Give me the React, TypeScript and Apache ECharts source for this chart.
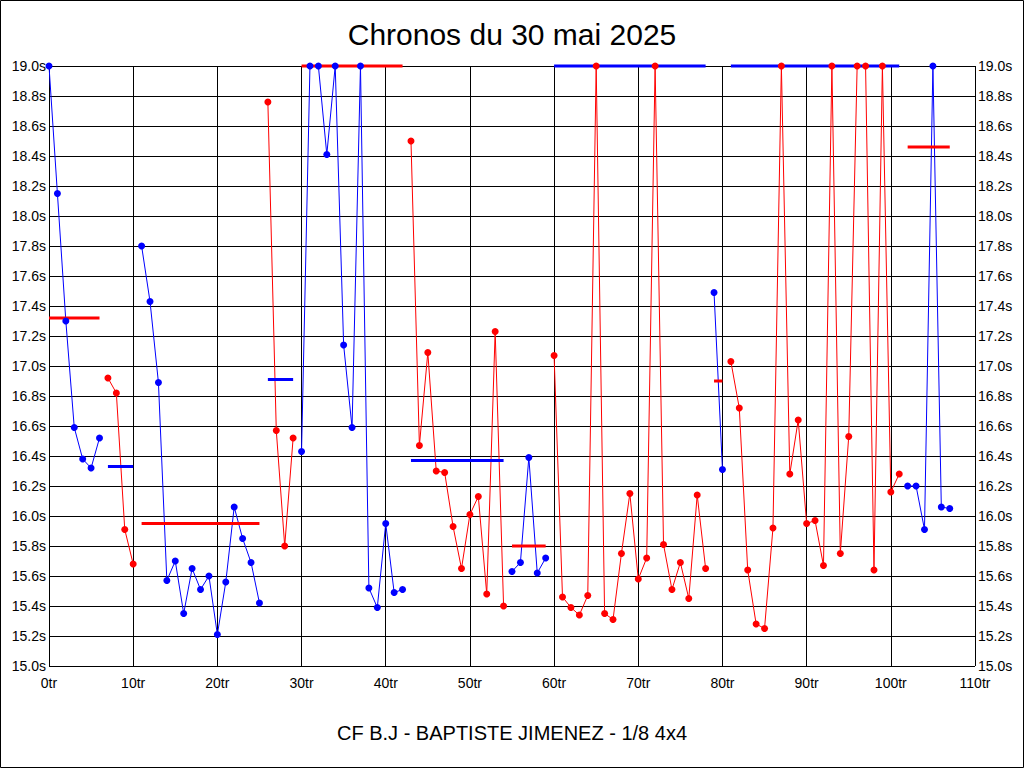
import React, { useEffect, useRef } from "react";
import * as echarts from "echarts";

// Lap times (s), index = lap number (tr). Values above 19.0 are shown clipped at 19.0.
const lapTimes: number[] = [
  19.0, 18.15, 17.3, 16.59, 16.38, 16.32, 16.52,
  16.92, 16.82, 15.91, 15.68,
  17.8, 17.43, 16.89, 15.57, 15.7, 15.35, 15.65, 15.51, 15.6, 15.21, 15.56, 16.06, 15.85, 15.69, 15.42,
  18.76, 16.57, 15.8, 16.52,
  16.43, 19.0, 19.0, 18.41, 19.0, 17.14, 16.59, 19.0, 15.52, 15.39, 15.95, 15.49, 15.51,
  18.5, 16.47, 17.09, 16.3, 16.29, 15.93, 15.65, 16.01, 16.13, 15.48, 17.23, 15.4,
  15.63, 15.69, 16.39, 15.62, 15.72,
  17.07, 15.46, 15.39, 15.34, 15.47, 19.0, 15.35, 15.31, 15.75, 16.15, 15.58, 15.72, 19.0, 15.81, 15.51, 15.69, 15.45, 16.14, 15.65,
  17.49, 16.31,
  17.03, 16.72, 15.64, 15.28, 15.25, 15.92, 19.0, 16.28, 16.64, 15.95, 15.97, 15.67, 19.0, 15.75, 16.53, 19.0, 19.0, 15.64, 19.0, 16.16, 16.28,
  16.2, 16.2, 15.91, 19.0, 16.06, 16.05,
];

// First lap of each relay segment (segments alternate blue / red)
const segmentStarts: number[] = [0, 7, 11, 26, 30, 43, 55, 60, 79, 81, 102];
// Mean time of each segment (drawn in the opposite colour, clipped at 19.0)
const segmentMeans: number[] = [17.32, 16.33, 15.95, 16.91, 19.0, 16.37, 15.8, 19.0, 16.9, 19.0, 18.46];
const segmentColors: string[] = ["#0000ff", "#ff0000"];

const xTicks: number[] = [0, 10, 20, 30, 40, 50, 60, 70, 80, 90, 100, 110];
const yMin = 15.0;
const yMax = 19.0;
const yStep = 0.2;

const titleText = "Chronos du 30 mai 2025";
const footerText = "CF B.J - BAPTISTE JIMENEZ - 1/8 4x4";

const FONT = "'Liberation Sans', Arial, sans-serif";

export default function App() {
  const ref = useRef<HTMLDivElement>(null);

  useEffect(() => {
    if (!ref.current) return;
    const chart = echarts.init(ref.current, undefined, { renderer: "svg" });

    const lineSeries: any[] = [];
    const meanSeries: any[] = [];
    const dotSeries: any[] = [];
    segmentStarts.forEach((start, i) => {
      const end = (i + 1 < segmentStarts.length ? segmentStarts[i + 1] : lapTimes.length) - 1;
      const color = segmentColors[i % 2];
      const other = segmentColors[(i + 1) % 2];
      const pts: number[][] = [];
      for (let k = start; k <= end; k++) pts.push([k, lapTimes[k]]);
      lineSeries.push({
        type: "line",
        data: pts,
        showSymbol: false,
        symbol: "none",
        lineStyle: { color, width: 1 },
        itemStyle: { color },
        clip: false,
        z: 2,
        silent: true,
      });
      meanSeries.push({
        type: "line",
        data: [
          [start, segmentMeans[i]],
          [end, segmentMeans[i]],
        ],
        symbol: "none",
        lineStyle: { color: other, width: 3 },
        clip: false,
        z: 3,
        silent: true,
      });
      dotSeries.push({
        type: "scatter",
        data: pts,
        symbol: "circle",
        symbolSize: 7,
        itemStyle: { color, opacity: 1 },
        clip: false,
        z: 4,
        silent: true,
      });
    });
    const series = [...lineSeries, ...meanSeries, ...dotSeries];

    const yAxisBase = {
      type: "value",
      min: yMin,
      max: yMax,
      interval: yStep,
      axisTick: { show: false },
      axisLine: { show: false },
      axisLabel: {
        color: "#000",
        fontFamily: FONT,
        fontSize: 14,
        margin: 3,
        formatter: (v: number) => v.toFixed(1) + "s",
      },
    };

    chart.setOption({
      animation: false,
      backgroundColor: "#ffffff",
      grid: { left: 49, right: 49, top: 66, bottom: 102, containLabel: false },
      xAxis: {
        type: "value",
        min: xTicks[0],
        max: xTicks[xTicks.length - 1],
        interval: 10,
        axisTick: { show: false },
        axisLine: { show: false },
        splitLine: { show: true, lineStyle: { color: "#000", width: 1 } },
        axisLabel: {
          color: "#000",
          fontFamily: FONT,
          fontSize: 14,
          margin: 10,
          formatter: (v: number) => v + "tr",
        },
      },
      yAxis: [
        {
          ...yAxisBase,
          position: "left",
          splitLine: { show: true, lineStyle: { color: "#000", width: 1 } },
        },
        {
          ...yAxisBase,
          position: "right",
          splitLine: { show: false },
        },
      ],
      graphic: [
        {
          type: "rect",
          shape: { x: 0.5, y: 0.5, width: 1023, height: 767 },
          style: { fill: "none", stroke: "#000", lineWidth: 1 },
          silent: true,
          z: 10,
        },
        {
          type: "text",
          x: 512,
          y: 34,
          style: {
            text: titleText,
            fill: "#000",
            font: `30px ${FONT}`,
            align: "center",
            verticalAlign: "middle",
          },
        },
        {
          type: "text",
          x: 512,
          y: 733,
          style: {
            text: footerText,
            fill: "#000",
            font: `20px ${FONT}`,
            align: "center",
            verticalAlign: "middle",
          },
        },
      ],
      series,
    });

    return () => chart.dispose();
  }, []);

  return (
    <div style={{ position: "fixed", left: 0, top: 0, width: 1024, height: 768, background: "#fff" }}>
      <div ref={ref} style={{ width: 1024, height: 768 }} />
    </div>
  );
}
